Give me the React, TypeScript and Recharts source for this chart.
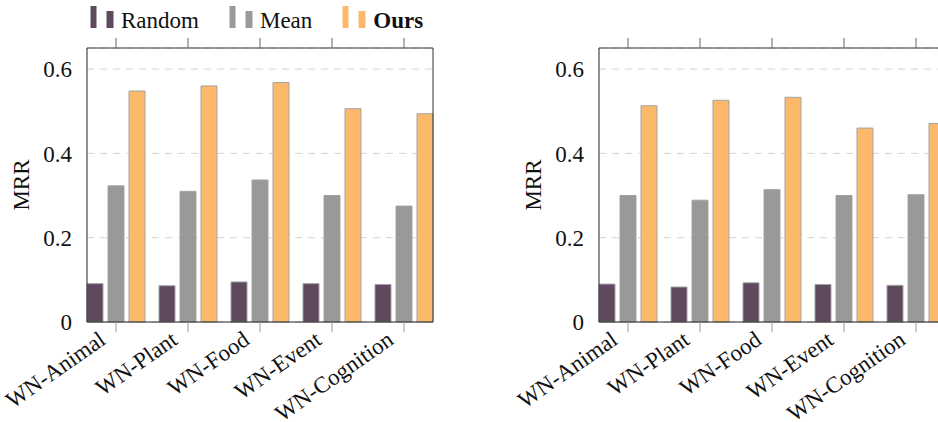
import { BarChart, Bar, XAxis, YAxis, CartesianGrid } from 'recharts';

const categories = ['WN-Animal', 'WN-Plant', 'WN-Food', 'WN-Event', 'WN-Cognition'];
const seriesNames = ['Random', 'Mean', 'Ours'];

// left panel
const leftRandom = [0.091, 0.086, 0.095, 0.091, 0.089];
const leftMean = [0.323, 0.31, 0.337, 0.3, 0.275];
const leftOurs = [0.548, 0.56, 0.568, 0.506, 0.494];

// right panel
const rightRandom = [0.09, 0.083, 0.093, 0.089, 0.087];
const rightMean = [0.3, 0.289, 0.314, 0.3, 0.302];
const rightOurs = [0.513, 0.526, 0.533, 0.46, 0.471];

const yTicks = [0, 0.2, 0.4, 0.6];
const colors = ['#5d4a5e', '#999999', '#fdb96b'];

const FONT = "Times, 'Times New Roman', serif";

function CategoryTick({ x, y, payload }: any) {
  return (
    <text
      transform={`translate(${x - 9},${y + 11}) rotate(-35)`}
      textAnchor="end"
      fontSize={23}
      fontFamily={FONT}
      fill="#111"
    >
      {payload.value}
    </text>
  );
}

const NoTick = () => <g />;

function MrrLabel({ viewBox }: any) {
  const cy = viewBox.y + viewBox.height / 2;
  return (
    <text x={29} y={cy} transform={`rotate(-90, 29, ${cy})`} textAnchor="middle" fontSize={23} fontFamily={FONT} fill="#111">
      MRR
    </text>
  );
}

function Panel({ random, mean, ours }: { random: number[]; mean: number[]; ours: number[] }) {
  const data = categories.map((c, i) => ({
    name: c,
    [seriesNames[0]]: random[i],
    [seriesNames[1]]: mean[i],
    [seriesNames[2]]: ours[i],
  }));
  const pad = { left: -7, right: -7 };
  return (
    <BarChart
      width={460}
      height={422}
      data={data}
      margin={{ top: 47, right: 26, bottom: 0, left: 0 }}
      barSize={16}
      barGap={5}
    >
      <CartesianGrid vertical={false} stroke="#d4d4d4" strokeDasharray="7 6" />
      <XAxis
        dataKey="name"
        height={100}
        interval={0}
        padding={pad}
        tickSize={10}
        tickMargin={0}
        tickLine={{ stroke: '#999' }}
        axisLine={{ stroke: '#222' }}
        tick={<CategoryTick />}
      />
      <XAxis
        xAxisId="top"
        orientation="top"
        dataKey="name"
        height={1}
        interval={0}
        padding={pad}
        tickSize={10}
        tickLine={{ stroke: '#666' }}
        axisLine={{ stroke: '#333' }}
        tick={<NoTick />}
      />
      <YAxis
        width={87}
        domain={[0, 0.65]}
        ticks={yTicks}
        tickLine={false}
        tickMargin={9}
        axisLine={{ stroke: '#222' }}
        tickFormatter={(v: number) => (v === 0 ? '0' : v.toFixed(1))}
        tick={{ fontSize: 23, fill: '#111', fontFamily: FONT }}
        label={<MrrLabel />}
      />
      <YAxis
        yAxisId="right"
        orientation="right"
        width={1}
        domain={[0, 0.65]}
        ticks={yTicks}
        tickLine={false}
        tick={<NoTick />}
        axisLine={{ stroke: '#333' }}
      />
      {seriesNames.map((s, i) => (
        <Bar key={s} dataKey={s} fill={colors[i]} stroke="#a3a3a3" strokeWidth={1} isAnimationActive={false} />
      ))}
    </BarChart>
  );
}

function LegendIcon({ color }: { color: string }) {
  return (
    <svg width={24} height={22} style={{ display: 'block' }}>
      <rect x={0.5} y={0} width={6} height={22} fill={color} />
      <rect x={16.5} y={5} width={7} height={17} fill={color} />
    </svg>
  );
}

export default function App() {
  return (
    <div style={{ position: 'relative', width: 938, height: 422, overflow: 'hidden', background: '#fff', fontFamily: FONT }}>
      <style>{'body{margin:0}'}</style>
      <div
        style={{
          position: 'absolute',
          left: 90,
          top: 6,
          display: 'flex',
          gap: 30,
          fontSize: 23,
          lineHeight: '26px',
          color: '#111',
          zIndex: 2,
        }}
      >
        {seriesNames.map((s, i) => (
          <div key={s} style={{ display: 'flex', alignItems: 'baseline' }}>
            <span style={{ display: 'inline-block', alignSelf: 'baseline' }}>
              <LegendIcon color={colors[i]} />
            </span>
            <span style={{ marginLeft: 7, fontWeight: i === 2 ? 'bold' : 'normal' }}>{s}</span>
          </div>
        ))}
      </div>
      <div style={{ position: 'absolute', left: 0, top: 0 }}>
        <Panel random={leftRandom} mean={leftMean} ours={leftOurs} />
      </div>
      <div style={{ position: 'absolute', left: 512, top: 0 }}>
        <Panel random={rightRandom} mean={rightMean} ours={rightOurs} />
      </div>
    </div>
  );
}
